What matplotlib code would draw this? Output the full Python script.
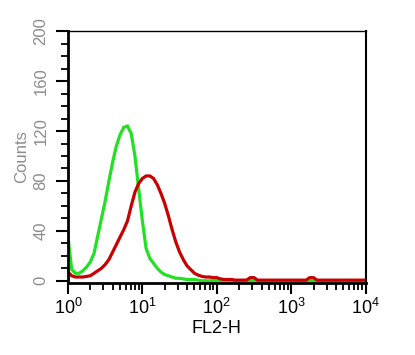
import numpy as np
import matplotlib
matplotlib.use('Agg')
import matplotlib.pyplot as plt
from matplotlib.ticker import FixedLocator, NullFormatter

plt.rcParams['font.family'] = ['Liberation Sans', 'DejaVu Sans']
plt.rcParams['mathtext.fontset'] = 'custom'
plt.rcParams['mathtext.rm'] = 'Liberation Sans'
plt.rcParams['mathtext.it'] = 'Liberation Sans'

# FL2 channel scale, in decades (0 .. 4)
fl2_decades = np.arange(0, 4.001, 0.05)

# control (green) histogram counts
control_counts = [
    35, 9, 6, 6, 8, 11, 15, 22, 36, 50,
    64, 80, 95, 108, 117, 123, 124, 118, 100, 74,
    48, 26, 18, 14, 10, 7, 5, 4, 3, 2,
    2, 1.5, 1, 1, 1, 0.5, 0, 0, 0, 0,
    0, 0, 0, 0, 0, 0, 0, 0, 0, 0,
    0, 0, 0, 0, 0, 0, 0, 0, 0, 0,
    0, 0, 0, 0, 0, 0, 0, 0, 0, 0,
    0, 0, 0, 0, 0, 0, 0, 0, 0, 0,
    0,
]

# stained (red) histogram counts
stained_counts = [
    7, 4, 3, 3, 3, 3.5, 4, 6, 8, 10,
    13, 17, 23, 29, 35, 41, 48, 60, 71, 78,
    82, 84, 84, 82, 77, 70, 62, 52, 41, 31,
    23, 17, 12, 9, 6, 4.5, 3.5, 3, 3, 2.5,
    2.5, 1.5, 1, 1, 1, 0.5, 0.5, 0.5, 0.5, 2.5,
    2.5, 0.5, 0.5, 0.5, 0.5, 0.5, 0.5, 0.5, 0.5, 0.5,
    0.5, 0.5, 0.5, 0.5, 0.5, 2.5, 2.5, 0.5, 0.5, 0.5,
    0.5, 0.5, 0.5, 0.5, 0.5, 0.5, 0.5, 0.5, 0.5, 0.5,
    0.5,
]

y_ticks = [0, 40, 80, 120, 160, 200]
x_decades = [0, 1, 2, 3, 4]

fig = plt.figure(figsize=(4.15, 3.55), dpi=100)
ax = fig.add_axes([68 / 415, 1 - 283 / 355, (365.5 - 68) / 415, (283 - 30.5) / 355])

fl2 = 10 ** fl2_decades
ax.plot(fl2, control_counts, color='#22e022', lw=2.3, solid_joinstyle='miter')
ax.plot(fl2, stained_counts, color='#c80000', lw=2.3, solid_joinstyle='miter')

ax.set_xscale('log')
ax.set_xlim(1, 1e4)
ax.set_ylim(-1.8, 200.6)

# x axis ticks
ax.xaxis.set_major_locator(FixedLocator([10 ** d for d in x_decades]))
minors = [m * 10 ** d for d in x_decades[:-1] for m in range(2, 10)]
ax.xaxis.set_minor_locator(FixedLocator(minors))
ax.xaxis.set_minor_formatter(NullFormatter())
ax.set_xticklabels([r'$10^{%d}$' % d for d in x_decades], fontsize=13)
ax.tick_params(axis='x', which='major', direction='out', length=8, width=1.5, pad=3)
ax.tick_params(axis='x', which='minor', direction='out', length=5, width=1.3)

# y axis ticks
ax.set_yticks(y_ticks)
ax.set_yticks(range(0, 201, 10), minor=True)
ax.set_yticklabels([str(v) for v in y_ticks], rotation=90, va='center',
                   fontsize=12, color='#8c8c8c')
ax.tick_params(axis='y', which='major', direction='out', length=9, width=1.5, pad=5)
ax.tick_params(axis='y', which='minor', direction='out', length=5, width=1.3)
ax.tick_params(top=False, right=False, which='both')

ax.set_xlabel('FL2-H', fontsize=13, labelpad=1)
ax.set_ylabel('Counts', fontsize=12, color='#8c8c8c', labelpad=3)

ax.spines['left'].set_linewidth(2.0)
ax.spines['bottom'].set_linewidth(2.0)
ax.spines['top'].set_linewidth(1.0)
ax.spines['right'].set_linewidth(1.5)

fig.savefig('out.png', dpi=100)
